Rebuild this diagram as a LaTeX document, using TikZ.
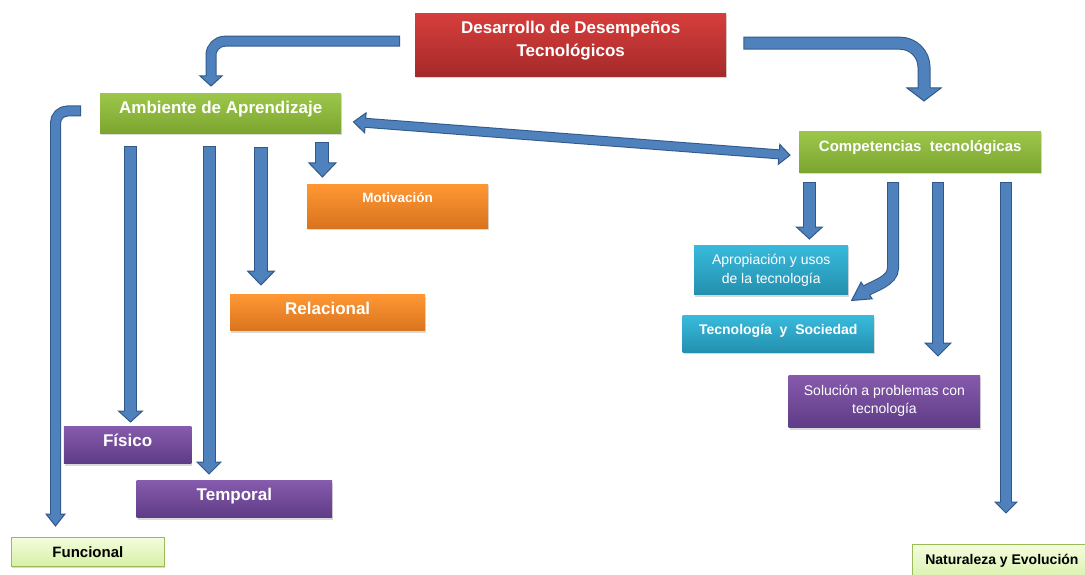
\documentclass[tikz,border=0pt]{standalone}
\usepackage{fontspec}
\setmainfont{Liberation Sans}
\usetikzlibrary{calc,shadows}
\definecolor{arrF}{HTML}{4F81BD}
\definecolor{arrB}{HTML}{30598A}
\definecolor{redT}{HTML}{D63E3C}
\definecolor{redB}{HTML}{A52A2A}
\definecolor{grnT}{HTML}{9CC74A}
\definecolor{grnB}{HTML}{7CA530}
\definecolor{orgT}{HTML}{FF9733}
\definecolor{orgB}{HTML}{D9741F}
\definecolor{purT}{HTML}{865AAC}
\definecolor{purB}{HTML}{5E3C86}
\definecolor{cyaT}{HTML}{38BADC}
\definecolor{cyaB}{HTML}{2490AE}
\definecolor{lgT}{HTML}{F3FCDD}
\definecolor{lgB}{HTML}{D6F0A6}
\definecolor{lgD}{HTML}{9BBB59}
\newcommand\tx[2]{\raisebox{#1}[0pt][0pt]{#2}}
\newcommand\twol[2]{\begin{tabular}[b]{@{}c@{}}#1\\#2\end{tabular}}
\newcommand\blockarrow[5]{%
  \draw[arrB, line width=#2+2pt, shorten <=-1pt] #1;
  \filldraw[fill=arrF, draw=arrB, line width=1pt, line join=miter]
    (#3) -- ($(#3)!#5!90:(#4)$) -- (#4) -- ($(#3)!#5!-90:(#4)$) -- cycle;
  \draw[arrF, line width=#2] #1;
  \draw[arrF, line width=#2] (#3) -- ($(#3)!1.4pt!(#4)$);
}
\tikzset{
  box/.style={rectangle, inner sep=0pt, anchor=north west, text=white,
    drop shadow={shadow xshift=1pt, shadow yshift=-2pt, opacity=0.3}},
  redbox/.style={box, top color=redT, bottom color=redB},
  grnbox/.style={box, top color=grnT, bottom color=grnB},
  orgbox/.style={box, top color=orgT, bottom color=orgB},
  purbox/.style={box, top color=purT, bottom color=purB},
  cyabox/.style={box, top color=cyaT, bottom color=cyaB},
  lgbox/.style={box, top color=lgT, bottom color=lgB, draw=lgD, line width=0.8pt, text=black},
}
\begin{document}
\begin{tikzpicture}[x=1pt,y=-1pt]
\useasboundingbox (0,0) rectangle (1085,575);
% boxes
\node[redbox, minimum width=311pt, minimum height=63pt, font=\fontsize{17}{22.3}\selectfont\bfseries]
  (des) at (415,13) {\tx{-11.5pt}{\twol{Desarrollo de Desempeños}{Tecnológicos}}};
\node[grnbox, minimum width=241pt, minimum height=40pt, font=\fontsize{17}{20}\selectfont\bfseries]
  (amb) at (100,93) {\tx{0pt}{Ambiente de Aprendizaje}};
\node[orgbox, minimum width=181pt, minimum height=44pt, font=\fontsize{13.5}{16}\selectfont\bfseries]
  (mot) at (307,184) {\tx{3.9pt}{Motivación}};
\node[orgbox, minimum width=195pt, minimum height=36.4pt, font=\fontsize{17}{20}\selectfont\bfseries]
  (rel) at (230,294.3) {\tx{-1.8pt}{Relacional}};
\node[purbox, minimum width=127.6pt, minimum height=36.6pt, font=\fontsize{17}{20}\selectfont\bfseries]
  (fis) at (63.6,426.7) {\tx{-1.7pt}{Físico}};
\node[purbox, minimum width=195.7pt, minimum height=36.6pt, font=\fontsize{17}{20}\selectfont\bfseries]
  (tem) at (136.3,480.7) {\tx{-1.7pt}{Temporal}};
\node[lgbox, minimum width=153pt, minimum height=28.7pt, font=\fontsize{15}{18}\selectfont\bfseries]
  (fun) at (11,537.3) {\tx{-5.6pt}{Funcional}};
\node[grnbox, minimum width=242pt, minimum height=41pt, font=\fontsize{15}{18}\selectfont\bfseries]
  (comp) at (799,131) {\tx{0pt}{Competencias\ \ tecnológicas}};
\node[cyabox, minimum width=154pt, minimum height=49.3pt, font=\fontsize{14}{19}\selectfont]
  (apr) at (694,245) {\tx{-13.6pt}{\twol{Apropiación y usos}{de la tecnología}}};
\node[cyabox, minimum width=191.2pt, minimum height=36.3pt, font=\fontsize{14}{17}\selectfont\bfseries]
  (tys) at (682.5,315.7) {\tx{-0.5pt}{Tecnología\ \ y\ \ Sociedad}};
\node[purbox, minimum width=191.5pt, minimum height=52.7pt, font=\fontsize{14}{18.3}\selectfont]
  (sol) at (788.5,375) {\tx{-12pt}{\twol{Solución a problemas con}{tecnología}}};
\node[lgbox, minimum width=179pt, minimum height=40pt, font=\fontsize{14}{17}\selectfont\bfseries]
  (nat) at (912,544) {\tx{0.3pt}{Naturaleza y Evolución}};
% arrow coordinates
\coordinate (s1) at ($(des.west)+(-16,-3.5)$);
\coordinate (t1) at ($(amb.north -| 211,0)+(0,-7)$);
\coordinate (b1) at ($(t1)+(0,-10)$);
\coordinate (s2) at ($(des.east)+(18,-1.5)$);
\coordinate (t2) at ($(comp.north -| 924,0)+(0,-30)$);
\coordinate (b2) at ($(t2)+(0,-13)$);
\coordinate (tL) at ($(amb.east)+(12,8.7)$);
\coordinate (tR) at ($(comp.west)+(-9,3.5)$);
\coordinate (bL) at ($(tL)!12pt!(tR)$);
\coordinate (bR) at ($(tR)!11pt!(tL)$);
\coordinate (s4) at ($(amb.west)+(-20,-2.2)$);
\coordinate (t4) at ($(fun.north -| 55.5,0)+(0,-11.3)$);
\coordinate (b4) at ($(t4)+(0,-12)$);
\coordinate (s5) at ($(amb.south -| 130.5,0)+(0,14)$);
\coordinate (t5) at ($(fis.north -| 130.5,0)+(0,-4.7)$);
\coordinate (b5) at ($(t5)+(0,-11)$);
\coordinate (s6) at ($(amb.south -| 209,0)+(0,14)$);
\coordinate (t6) at ($(tem.north -| 209,0)+(0,-6.7)$);
\coordinate (b6) at ($(t6)+(0,-12)$);
\coordinate (s7) at ($(amb.south -| 261,0)+(0,15)$);
\coordinate (t7) at ($(rel.north -| 261,0)+(0,-9.3)$);
\coordinate (b7) at ($(t7)+(0,-14)$);
\coordinate (s8) at ($(amb.south -| 322.4,0)+(0,10)$);
\coordinate (t8) at ($(mot.north -| 322.4,0)+(0,-7)$);
\coordinate (b8) at ($(t8)+(0,-14)$);
\coordinate (s9) at ($(comp.south -| 809.4,0)+(0,10.7)$);
\coordinate (t9) at ($(apr.north -| 809.4,0)+(0,-6)$);
\coordinate (b9) at ($(t9)+(0,-12)$);
\coordinate (s10) at ($(comp.south -| 893,0)+(0,10.7)$);
\coordinate (t10) at ($(tys.north east)+(-22.5,-15.2)$);
\coordinate (b10) at ($(t10)+(15,-10)$);
\coordinate (s11) at ($(comp.south -| 938,0)+(0,10.7)$);
\coordinate (t11) at ($(sol.north -| 938,0)+(0,-19)$);
\coordinate (b11) at ($(t11)+(0,-13)$);
\coordinate (s12) at ($(comp.south -| 1006,0)+(0,10.7)$);
\coordinate (t12) at ($(nat.north -| 1006,0)+(0,-31)$);
\coordinate (b12) at ($(t12)+(0,-11)$);
% arrows
\blockarrow{[rounded corners=14pt] (s1) -- (s1 -| b1) -- (b1)}{9pt}{b1}{t1}{11pt}
\blockarrow{[rounded corners=24pt] (s2) -- (s2 -| b2) -- (b2)}{11pt}{b2}{t2}{17pt}
\blockarrow{[rounded corners=12pt] (s4) -- (s4 -| b4) -- (b4)}{9pt}{b4}{t4}{9.5pt}
\blockarrow{(s5) -- (b5)}{10.5pt}{b5}{t5}{12pt}
\blockarrow{(s6) -- (b6)}{11pt}{b6}{t6}{12pt}
\blockarrow{(s7) -- (b7)}{11.5pt}{b7}{t7}{13.5pt}
\blockarrow{(s8) -- (b8)}{12pt}{b8}{t8}{13.4pt}
\blockarrow{(s9) -- (b9)}{11pt}{b9}{t9}{13pt}
\blockarrow{(s10) -- ($(s10)+(0,85)$) .. controls ($(s10)+(0,98)$) and ($(b10)!-8pt!(t10)$) .. (b10)}{10pt}{b10}{t10}{10pt}
\blockarrow{(s11) -- (b11)}{10.5pt}{b11}{t11}{13pt}
\blockarrow{(s12) -- (b12)}{10.5pt}{b12}{t12}{11pt}
% double arrow
\draw[arrB, line width=10pt] (bL) -- (bR);
\filldraw[fill=arrF, draw=arrB, line width=1pt, line join=miter]
  (bL) -- ($(bL)!10pt!90:(tL)$) -- (tL) -- ($(bL)!10pt!-90:(tL)$) -- cycle;
\filldraw[fill=arrF, draw=arrB, line width=1pt, line join=miter]
  (bR) -- ($(bR)!10pt!90:(tR)$) -- (tR) -- ($(bR)!10pt!-90:(tR)$) -- cycle;
\draw[arrF, line width=8pt] ($(bL)!1.4pt!(tL)$) -- ($(bR)!1.4pt!(tR)$);
\end{tikzpicture}
\end{document}
